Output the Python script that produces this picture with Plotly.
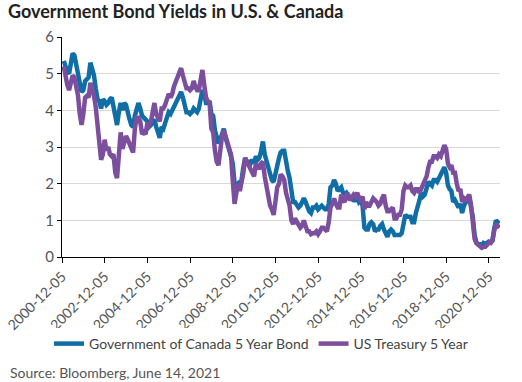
import pandas as pd
import plotly.graph_objects as go

# Monthly observation dates (Dec 2000 - Jun 2021)
dates = pd.date_range("2000-12-05", "2021-06-05", freq="MS") + pd.Timedelta(days=4)

canada_5y = [
    5.35,
    5.15, 5.05, 5.0, 5.3, 5.55, 5.5, 5.3, 5.0, 4.75, 4.5, 4.55, 4.8,
    4.85, 4.9, 5.3, 5.15, 4.95, 4.6, 4.3, 4.25, 4.05, 4.3, 4.25, 4.15,
    4.2, 4.3, 4.35, 4.1, 3.8, 3.6, 3.95, 4.2, 4.0, 4.2, 4.15, 3.9,
    3.75, 3.6, 3.55, 3.85, 4.1, 4.2, 4.05, 3.85, 3.8, 3.75, 3.7, 3.55,
    3.6, 3.7, 3.75, 3.55, 3.4, 3.25, 3.55, 3.5, 3.65, 3.85, 3.95, 3.9,
    4.0, 4.1, 4.2, 4.3, 4.45, 4.5, 4.35, 4.1, 3.95, 3.95, 3.9, 3.95,
    4.05, 4.0, 3.95, 4.05, 4.35, 4.55, 4.45, 4.2, 4.2, 4.25, 3.9, 3.85,
    3.45, 3.3, 3.1, 3.2, 3.4, 3.5, 3.25, 3.1, 2.95, 2.75, 2.55, 2.0,
    1.95, 2.0, 1.9, 2.1, 2.45, 2.7, 2.6, 2.6, 2.55, 2.65, 2.55, 2.75,
    2.65, 2.7, 2.9, 3.15, 2.8, 2.6, 2.45, 2.3, 2.1, 2.05, 2.3, 2.4,
    2.7, 2.85, 2.9, 2.9, 2.55, 2.35, 2.15, 1.7, 1.5, 1.5, 1.4, 1.35,
    1.4, 1.5, 1.6, 1.5, 1.35, 1.25, 1.2, 1.35, 1.35, 1.4, 1.3, 1.35,
    1.4, 1.35, 1.3, 1.3, 1.45, 1.9, 1.95, 2.1, 2.0, 1.8, 1.85, 1.9,
    1.75, 1.7, 1.75, 1.65, 1.6, 1.6, 1.55, 1.55, 1.65, 1.5, 1.55, 1.4,
    0.8, 0.75, 0.75, 0.9, 0.95, 0.9, 0.7, 0.75, 0.75, 0.85, 0.9, 0.75,
    0.6, 0.55, 0.7, 0.75, 0.7, 0.6, 0.6, 0.6, 0.6, 0.65, 0.95, 1.15,
    1.1, 1.1, 1.1, 0.95, 0.95, 1.2, 1.45, 1.55, 1.75, 1.65, 1.7, 1.85,
    2.05, 2.0, 1.95, 2.1, 2.1, 2.05, 2.15, 2.2, 2.35, 2.45, 2.3, 1.95,
    1.85, 1.8, 1.5, 1.55, 1.45, 1.35, 1.45, 1.2, 1.4, 1.5, 1.55, 1.65,
    1.35, 1.1, 0.6, 0.4, 0.35, 0.35, 0.3, 0.38, 0.35, 0.4, 0.42, 0.4,
    0.45, 0.75, 1.0, 0.95, 0.92, 0.88,
]

us_5y = [
    5.2,
    4.85, 4.7, 4.55, 4.75, 4.95, 4.9, 4.6, 4.4, 3.9, 3.6, 3.9, 4.35,
    4.4, 4.35, 4.75, 4.6, 4.4, 4.1, 3.6, 3.2, 2.65, 2.8, 3.2, 2.9,
    3.0, 2.8, 2.75, 2.8, 2.3, 2.15, 3.0, 3.4, 2.95, 3.2, 3.3, 3.2,
    3.1, 2.95, 2.85, 3.5, 3.8, 3.8, 3.7, 3.35, 3.4, 3.35, 3.65, 3.6,
    3.7, 3.95, 4.2, 3.9, 3.75, 3.7, 4.05, 4.05, 4.15, 4.35, 4.45, 4.35,
    4.45, 4.65, 4.8, 4.95, 5.05, 5.15, 4.95, 4.75, 4.6, 4.6, 4.55, 4.6,
    4.8, 4.65, 4.55, 4.55, 4.85, 5.1, 4.7, 4.35, 4.25, 4.2, 3.5, 3.4,
    2.9, 2.6, 2.5, 2.95, 3.3, 3.45, 3.3, 3.1, 2.95, 2.8, 2.1, 1.45,
    1.75, 2.0, 1.8, 2.0, 2.3, 2.7, 2.6, 2.55, 2.4, 2.35, 2.2, 2.55,
    2.45, 2.4, 2.55, 2.6, 2.2, 1.9, 1.7, 1.4, 1.3, 1.15, 1.5, 1.9,
    2.0, 2.25, 2.2, 2.1, 1.75, 1.6, 1.4, 1.0, 0.9, 1.05, 0.95, 0.85,
    0.8, 0.85, 1.0, 0.85, 0.7, 0.7, 0.62, 0.65, 0.65, 0.7, 0.62, 0.7,
    0.8, 0.8, 0.75, 0.7, 0.95, 1.35, 1.45, 1.6, 1.45, 1.35, 1.35, 1.7,
    1.55, 1.5, 1.7, 1.7, 1.55, 1.65, 1.7, 1.65, 1.75, 1.6, 1.55, 1.65,
    1.3, 1.5, 1.4, 1.4, 1.5, 1.6, 1.55, 1.5, 1.4, 1.45, 1.6, 1.7,
    1.4, 1.25, 1.25, 1.3, 1.35, 1.05, 1.05, 1.15, 1.15, 1.3, 1.8, 1.95,
    1.9, 1.9, 1.95, 1.8, 1.75, 1.85, 1.85, 1.75, 1.85, 2.0, 2.1, 2.2,
    2.45, 2.6, 2.6, 2.75, 2.75, 2.7, 2.8, 2.75, 2.9, 3.05, 2.95, 2.55,
    2.45, 2.5, 2.3, 2.3, 2.0, 1.8, 1.85, 1.5, 1.6, 1.55, 1.62, 1.7,
    1.4, 1.05, 0.5, 0.38, 0.33, 0.3, 0.25, 0.28, 0.28, 0.33, 0.4, 0.38,
    0.45, 0.7, 0.9, 0.85, 0.8, 0.78,
]

tick_labels = ["2000-12-05", "2002-12-05", "2004-12-05", "2006-12-05",
               "2008-12-05", "2010-12-05", "2012-12-05", "2014-12-05",
               "2016-12-05", "2018-12-05", "2020-12-05"]
y_ticks = [0, 1, 2, 3, 4, 5, 6]

FONT = "Lato"
# plot area in pixels
L, R, T, B = 62, 500, 37, 257
W, H = 522, 382


def px_x(px):
    return (px - L) / (R - L)


def px_y(py):
    return (B - py) / (B - T)


fig = go.Figure()
fig.add_trace(go.Scatter(x=dates, y=canada_5y, mode="lines",
                         name="Government of Canada 5 Year Bond",
                         line=dict(color="#0f6ea6", width=4.5)))
fig.add_trace(go.Scatter(x=dates, y=us_5y, mode="lines",
                         name="US Treasury 5 Year",
                         line=dict(color="#7b4f9e", width=4.5)))

fig.update_layout(
    width=W, height=H,
    margin=dict(l=L, r=W - R, t=T, b=H - B, autoexpand=False),
    paper_bgcolor="white", plot_bgcolor="white",
    font=dict(family=FONT, color="#555555", size=13),
    title=dict(text="<b>Government Bond Yields in U.S. &amp; Canada</b>",
               x=8 / W, xanchor="left", xref="container",
               y=1 - 12 / H, yanchor="middle", yref="container",
               font=dict(family=FONT, size=18, color="#222222")),
    legend=dict(orientation="h", x=0.5, xanchor="center", xref="container",
                y=px_y(344), yanchor="middle", yref="paper",
                font=dict(size=14, color="#444444"), itemwidth=30,
                tracegroupgap=0),
    showlegend=True,
    annotations=[dict(text="Source: Bloomberg, June 14, 2021",
                      x=px_x(8), y=px_y(372), xref="paper", yref="paper",
                      xanchor="left", yanchor="middle", showarrow=False,
                      font=dict(size=14, color="#555555"))],
)

fig.update_xaxes(type="date", range=["2000-12-05", "2021-06-14"],
                 tickvals=tick_labels, ticktext=tick_labels, tickangle=-45,
                 ticks="outside", ticklen=5, tickcolor="black",
                 showline=True, linecolor="black", linewidth=1,
                 showgrid=False, zeroline=False, automargin=False,
                 tickfont=dict(size=14, color="#555555"))
fig.update_yaxes(range=[0, 6], tickvals=y_ticks, ticks="outside", ticklen=4,
                 tickcolor="black", showline=True, linecolor="black",
                 linewidth=1, showgrid=True, gridcolor="#d9d9d9",
                 zeroline=False, automargin=False,
                 tickfont=dict(size=15, color="#555555"))

fig.write_html("out.html", config={"displayModeBar": False},
               post_script="document.body.style.margin='0';"
                           "document.body.style.padding='0';")
